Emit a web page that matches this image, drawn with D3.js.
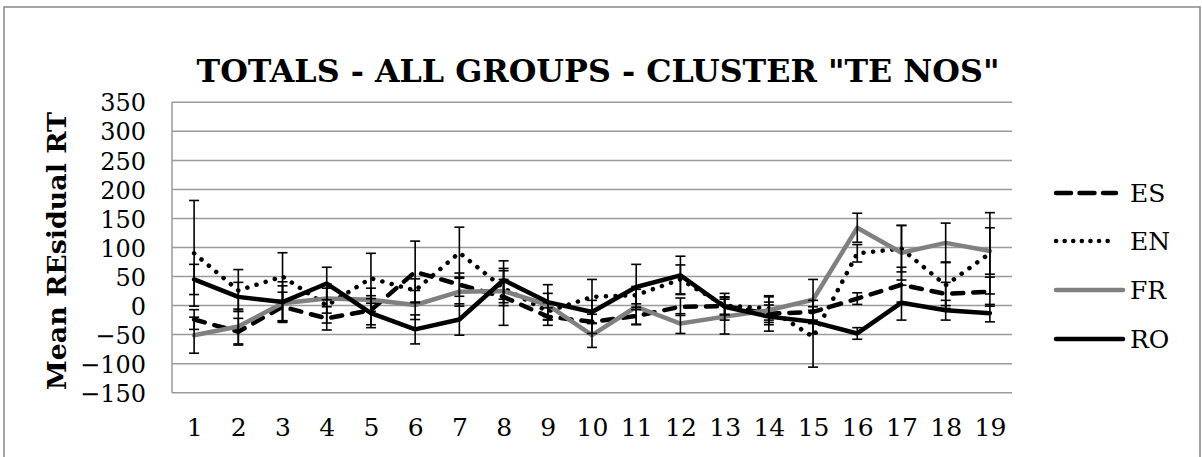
<!DOCTYPE html>
<html>
<head>
<meta charset="utf-8">
<script src="https://cdn.jsdelivr.net/npm/d3@7/dist/d3.min.js"></script>
<style>
  html, body { margin: 0; padding: 0; background: #fff; }
  svg { display: block; }
  text { font-family: "DejaVu Serif", "Liberation Serif", serif; fill: #000; }
</style>
</head>
<body>
<svg id="chart" width="1202" height="457"></svg>
<script>
// Items (x axis) and y ticks
const items = d3.range(1, 20).map(String);
const yTicks = [-150, -100, -50, 0, 50, 100, 150, 200, 250, 300, 350];

// Mean residual RT per language group
const esMean = [-24, -45, -2, -22, -8, 58, 36, 15, -19, -28, -18, -2, -1, -14, -11, 12, 36, 20, 24];
const enMean = [90, 26, 50, 0, 47, 26, 91, 30, -10, 15, 18, 45, 0, -5, -54, 90, 98, 35, 90];
const frMean = [-51, -36, 4, 12, 10, 1, 24, 25, 1, -51, -2, -31, -19, -8, 10, 134, 91, 108, 94];
const roMean = [45, 15, 6, 38, -13, -41, -24, 44, 6, -11, 32, 52, -2, -19, -28, -48, 5, -8, -13];

// Error bar half-widths
const esErr = [17, 23, 25, 20, 25, 53, 20, 49, 15, 20, 15, 15, 15, 15, 20, 10, 30, 20, 25];
const enErr = [91, 36, 41, 30, 43, 20, 44, 30, 15, 30, 15, 25, 15, 20, 52, 15, 40, 40, 70];
const frErr = [31, 30, 30, 25, 20, 25, 25, 20, 20, 21, 30, 17, 30, 25, 35, 25, 47, 34, 40];
const roErr = [26, 25, 35, 28, 25, 25, 27, 33, 30, 20, 39, 33, 23, 25, 20, 10, 30, 17, 15];

const seriesNames = ["ES", "EN", "FR", "RO"];

const series = [
  { name: "ES", mean: esMean, err: esErr, color: "#000", width: 4.5, dash: "11,10", legendDash: "15,8.5", cap: "round" },
  { name: "EN", mean: enMean, err: enErr, color: "#000", width: 4.5, dash: "0.1,9.5", legendDash: "0.1,8.5", cap: "round" },
  { name: "FR", mean: frMean, err: frErr, color: "#808080", width: 4.5, dash: null, legendDash: null, cap: "round" },
  { name: "RO", mean: roMean, err: roErr, color: "#000", width: 4.5, dash: null, legendDash: null, cap: "round" }
];

const svg = d3.select("#chart");

// Outer chart frame
svg.append("rect")
  .attr("x", 4).attr("y", 7).attr("width", 1196).attr("height", 460)
  .attr("fill", "#fff").attr("stroke", "#868686").attr("stroke-width", 1.5);

const plot = { left: 172, right: 1012, top: 102.3, bottom: 392.7 };

const x = d3.scalePoint().domain(items).range([plot.left, plot.right]).padding(0.5);
const y = d3.scaleLinear().domain([-150, 350]).range([plot.bottom, plot.top]);

// Horizontal gridlines
svg.append("g")
  .selectAll("line")
  .data(yTicks)
  .join("line")
  .attr("x1", plot.left).attr("x2", plot.right)
  .attr("y1", d => y(d)).attr("y2", d => y(d))
  .attr("stroke", "#9a9a9a").attr("stroke-width", 1.5);

// Left axis line
svg.append("line")
  .attr("x1", plot.left).attr("x2", plot.left)
  .attr("y1", plot.top).attr("y2", plot.bottom)
  .attr("stroke", "#9a9a9a").attr("stroke-width", 1.5);

// Y axis labels
const yAxis = d3.axisLeft(y).tickValues(yTicks).tickSize(0).tickPadding(26);
const gy = svg.append("g").attr("transform", `translate(${plot.left},0)`).call(yAxis);
gy.select(".domain").remove();
gy.selectAll("text")
  .style("font-family", '"DejaVu Serif", serif')
  .style("font-size", "24px")
  .attr("dy", "0.36em");

// X axis labels
const xAxis = d3.axisBottom(x).tickSize(0).tickPadding(0);
const gx = svg.append("g").attr("transform", `translate(0,${plot.bottom})`).call(xAxis);
gx.select(".domain").remove();
gx.selectAll("text")
  .style("font-family", '"DejaVu Serif", serif')
  .style("font-size", "25px")
  .attr("y", 43)
  .attr("dy", 0);

// Series lines
const line = d3.line()
  .x((d, i) => x(items[i]))
  .y(d => y(d));

series.forEach(s => {
  svg.append("path")
    .datum(s.mean)
    .attr("d", line)
    .attr("fill", "none")
    .attr("stroke", s.color)
    .attr("stroke-width", s.width)
    .attr("stroke-linecap", s.cap)
    .attr("stroke-linejoin", "round")
    .attr("stroke-dasharray", s.dash);
});

// Error bars
series.forEach(s => {
  const g = svg.append("g").attr("stroke", "#000").attr("stroke-width", 1.6);
  const data = s.mean.map((m, i) => ({ item: items[i], lo: m - s.err[i], hi: m + s.err[i] }));
  g.selectAll("line.v").data(data).join("line").attr("class", "v")
    .attr("x1", d => x(d.item)).attr("x2", d => x(d.item))
    .attr("y1", d => y(d.lo)).attr("y2", d => y(d.hi));
  g.selectAll("line.hi").data(data).join("line").attr("class", "hi")
    .attr("x1", d => x(d.item) - 5).attr("x2", d => x(d.item) + 5)
    .attr("y1", d => y(d.hi)).attr("y2", d => y(d.hi));
  g.selectAll("line.lo").data(data).join("line").attr("class", "lo")
    .attr("x1", d => x(d.item) - 5).attr("x2", d => x(d.item) + 5)
    .attr("y1", d => y(d.lo)).attr("y2", d => y(d.lo));
});

// Fit a text element's font size so that it spans the given width
function fitWidth(sel, target) {
  const node = sel.node();
  const fs = parseFloat(sel.style("font-size"));
  const w = node.getComputedTextLength();
  sel.style("font-size", (fs * target / w) + "px");
}

// Title
const title = svg.append("text")
  .attr("x", 598).attr("y", 82)
  .attr("text-anchor", "middle")
  .style("font-family", '"DejaVu Serif", serif')
  .style("font-weight", "bold")
  .style("font-size", "26px")
  .text('TOTALS - ALL GROUPS - CLUSTER "TE NOS"');
fitWidth(title, 803);

// Y axis title
const yTitle = svg.append("text")
  .attr("transform", "translate(66,251) rotate(-90)")
  .attr("text-anchor", "middle")
  .style("font-family", '"DejaVu Serif", serif')
  .style("font-weight", "bold")
  .style("font-size", "22px")
  .text("Mean REsidual RT");
fitWidth(yTitle, 278);

// Legend
const legendY = [193, 241, 290, 339];
const legend = svg.append("g");
series.forEach((s, i) => {
  const ly = legendY[i];
  legend.append("line")
    .attr("x1", 1056)
    .attr("x2", (s.name === "ES" || s.name === "EN") ? 1116 : 1123)
    .attr("y1", ly).attr("y2", ly)
    .attr("stroke", s.color)
    .attr("stroke-width", s.width)
    .attr("stroke-linecap", s.cap)
    .attr("stroke-dasharray", s.legendDash);
  legend.append("text")
    .attr("x", 1130).attr("y", ly)
    .attr("dy", "0.36em")
    .style("font-family", '"DejaVu Serif", serif')
    .style("font-size", "25px")
    .text(seriesNames[i]);
});
</script>
</body>
</html>
